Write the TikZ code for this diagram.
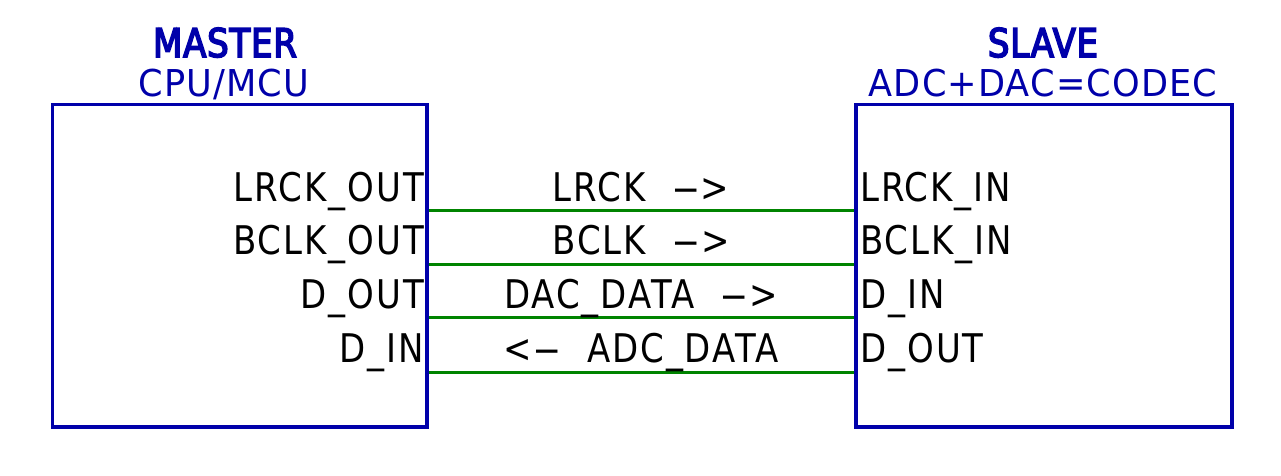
\documentclass[tikz,border=0pt]{standalone}
\usepackage{fontspec}
\usepackage{graphicx}
\setmainfont{DejaVu Sans}[FakeStretch=0.86,LetterSpace=5]
\newfontfamily\titlefont{DejaVu Sans}[FakeStretch=0.86,FakeBold=4,LetterSpace=2]
\newfontfamily\subfont{DejaVu Sans}[FakeStretch=0.95,LetterSpace=3]
\definecolor{kblue}{RGB}{0,0,170}
\definecolor{kgreen}{RGB}{0,132,0}
\newcommand{\dsh}{\scalebox{2.4}[1]{-}}
\begin{document}
\begin{tikzpicture}[x=1pt,y=-1pt,
  box/.style={draw=kblue,line width=3.5pt,minimum width=#1,minimum height=322pt,anchor=north west,inner sep=0pt},
  wire/.style={draw=kgreen,line width=3pt},
  lbl/.style={inner sep=0pt,font=\fontsize{39.5}{39.5}\selectfont},
  pinL/.style={lbl,anchor=base east},
  pinR/.style={lbl,anchor=base west},
  sig/.style={lbl,anchor=base},
  ttl/.style={anchor=base,inner sep=0pt,text=kblue,font=\titlefont\fontsize{39.5}{39.5}\selectfont},
  sub/.style={anchor=base,inner sep=0pt,text=kblue,font=\subfont\fontsize{37}{37}\selectfont}]
\useasboundingbox (0,0) rectangle (1281,476);
\fill[white] (0,0) rectangle (1281,476);
% boxes
\node[box=374.5pt] (master) at (50.5,103) {};
\node[box=376pt] (slave) at (854,103) {};
% titles
\node[ttl] (tm) at (225,57) {MASTER};
\node[sub] (sm) at (224,97) {CPU/MCU};
\node[ttl] (ts) at (1043,57) {SLAVE};
\node[sub] (ss) at (1043,97) {ADC+DAC=CODEC};
% wire rows
\coordinate (w1) at (0,210);
\coordinate (w2) at (0,264);
\coordinate (w3) at (0,317.5);
\coordinate (w4) at (0,372);
\draw[wire] (master.east |- w1) -- (slave.west |- w1);
\draw[wire] (master.east |- w2) -- (slave.west |- w2);
\draw[wire] (master.east |- w3) -- (slave.west |- w3);
\draw[wire] (master.east |- w4) -- (slave.west |- w4);
% master pins
\node[pinL] (m1) at (424,201) {LRCK\_OUT};
\node[pinL] (m2) at (424,254.5) {BCLK\_OUT};
\node[pinL] (m3) at (424,308) {D\_OUT};
\node[pinL] (m4) at (424,362) {D\_IN};
% slave pins
\node[pinR] (s1) at (860,201) {LRCK\_IN};
\node[pinR] (s2) at (860,254.5) {BCLK\_IN};
\node[pinR] (s3) at (860,308) {D\_IN};
\node[pinR] (s4) at (860,362) {D\_OUT};
% signal labels
\node[sig] (n1) at (641,201) {LRCK\ \ \dsh>};
\node[sig] (n2) at (641,254.5) {BCLK\ \ \dsh>};
\node[sig] (n3) at (641,308) {DAC\_DATA\ \ \dsh>};
\node[sig] (n4) at (641,362) {<\dsh\ \ ADC\_DATA};
\end{tikzpicture}
\end{document}
